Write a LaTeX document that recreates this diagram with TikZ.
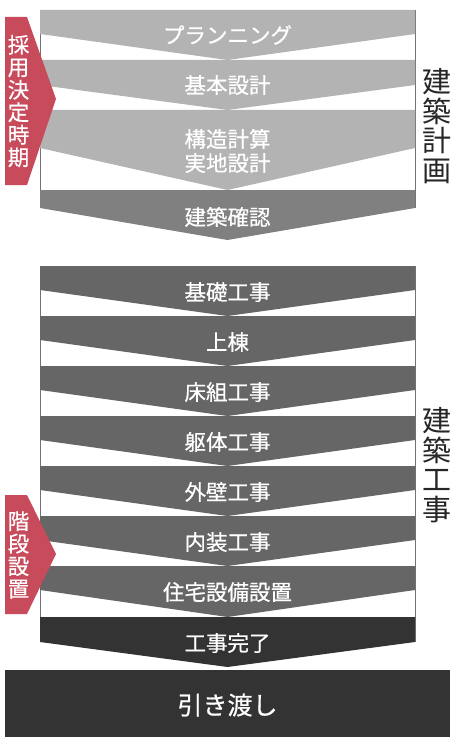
\documentclass[tikz,border=0pt]{standalone}
\usepackage{fontspec}
\newfontfamily\cjk[FakeBold=0.6]{Noto Sans CJK JP}
\newfontfamily\cjkthin{Noto Sans CJK JP}
\definecolor{light}{HTML}{B3B3B3}
\definecolor{mid}{HTML}{808080}
\definecolor{dark}{HTML}{666666}
\definecolor{darkest}{HTML}{333333}
\definecolor{rose}{HTML}{C84B5C}
% one step of the flow: top, side bottom, tip, colour
\newcommand{\chevron}[4]{\fill[#4] (40,#1) -- (415,#1) -- (415,#2) -- (227.5,#3) -- (40,#2) -- cycle;}
\begin{document}
\begin{tikzpicture}[x=1pt, y=-1pt,
    lbl/.style = {text=white, font=\cjk\fontsize{21.5}{24}\selectfont, align=center},
    tag/.style = {text=white, font=\cjk\fontsize{21.5}{22.5}\selectfont, align=center},
    head/.style = {text=black!85, font=\cjkthin\fontsize{29}{29.5}\selectfont, align=center},
    frame/.style = {draw=black!55, line width=0.8pt}]
    \useasboundingbox[fill=white] (0,0) rectangle (455,746);
    % planning
    \draw[frame] (40,10) -- (40,208);
    \draw[frame] (415,10) -- (415,208);
    \chevron{10}{34}{60}{light}
    \chevron{60}{85}{110}{light}
    \chevron{110}{148}{190}{light}
    \chevron{190}{208}{240}{mid}
    \node[lbl] (1) at (227.5,35) {プランニング};
    \node[lbl] (2) at (227.5,85) {基本設計};
    \node[lbl] (3) at (227.5,151) {構造計算\\実地設計};
    \node[lbl] (4) at (227.5,217) {建築確認};
    % construction
    \draw[frame] (40,266) -- (40,642);
    \draw[frame] (415,266) -- (415,642);
    \chevron{266}{290}{316}{dark}
    \chevron{316}{340}{366}{dark}
    \chevron{366}{390}{416}{dark}
    \chevron{416}{440}{466}{dark}
    \chevron{466}{490}{516}{dark}
    \chevron{516}{540}{566}{dark}
    \chevron{566}{590}{617}{dark}
    \chevron{617}{642}{667}{darkest}
    \node[lbl] (5) at (227.5,292) {基礎工事};
    \node[lbl] (6) at (227.5,342) {上棟};
    \node[lbl] (7) at (227.5,392) {床組工事};
    \node[lbl] (8) at (227.5,442) {躯体工事};
    \node[lbl] (9) at (227.5,492) {外壁工事};
    \node[lbl] (10) at (227.5,542) {内装工事};
    \node[lbl] (11) at (227.5,592) {住宅設備設置};
    \node[lbl] (12) at (227.5,643) {工事完了};
    % handover
    \fill[darkest] (5,670) rectangle (450,737);
    \node[lbl, font=\cjk\fontsize{25}{28}\selectfont] (13) at (227.5,705) {引き渡し};
    % red tags
    \fill[rose] (5,17) -- (27,17) -- (56,99) -- (27,185) -- (5,185) -- cycle;
    \node[tag] (14) at (18.5,101) {採\\用\\決\\定\\時\\期};
    \fill[rose] (5,495) -- (27,495) -- (56,554) -- (27,614) -- (5,614) -- cycle;
    \node[tag] (15) at (18.5,555) {階\\段\\設\\置};
    % side headings
    \node[head] (16) at (437,126) {建\\築\\計\\画};
    \node[head] (17) at (437,465) {建\\築\\工\\事};
\end{tikzpicture}
\end{document}
